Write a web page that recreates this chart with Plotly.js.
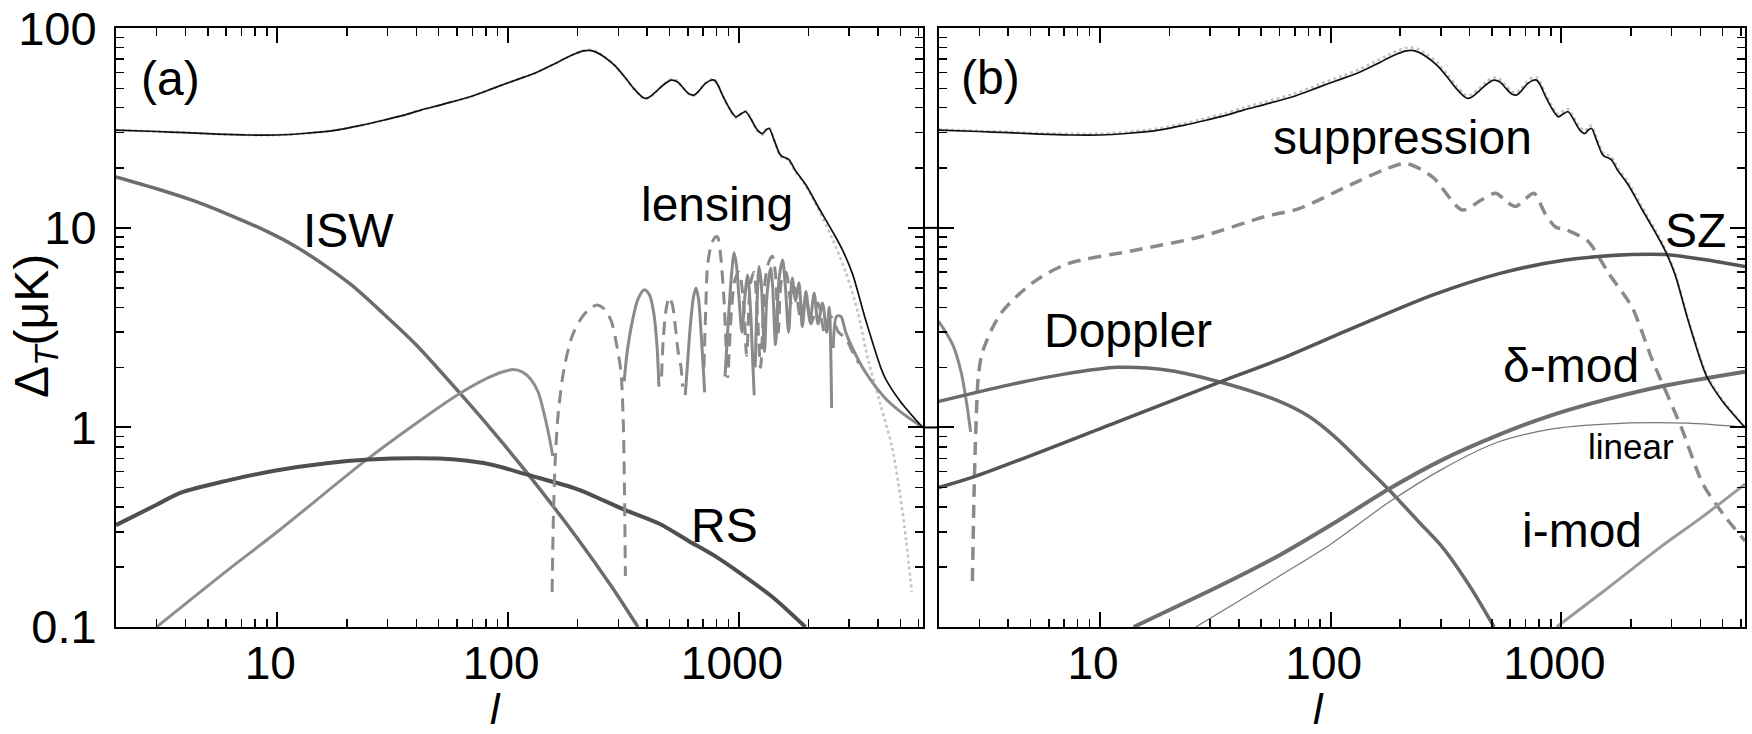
<!DOCTYPE html>
<html>
<head>
<meta charset="utf-8">
<script src="https://cdn.plot.ly/plotly-3.0.1.min.js"></script>
<style>
  html, body { margin: 0; padding: 0; background: #fff; }
  #chart { width: 1752px; height: 734px; }
</style>
</head>
<body>
<div id="chart"></div>
<script>
// Multipole values and temperature amplitudes (muK) for each contribution.

// Total anisotropy (same curve drawn in both panels)
const ellTotal = [2, 3, 4, 5.5, 7.5, 10, 13, 18, 23, 28.5, 35, 41.8, 52, 68.5, 89.5, 110, 131, 155, 178, 195, 210, 225, 240, 260, 290, 320, 350, 375, 389, 410, 440, 470, 508, 540, 575, 610, 640, 670, 710, 750, 781, 810, 850, 900, 970, 1020, 1070, 1120, 1200, 1265, 1310, 1352, 1420, 1500, 1545, 1600, 1650, 1750, 1950, 2200, 2540, 2800, 3100, 3540, 4110, 4340, 5000, 6250];
const total = [30.9, 30.4, 30.0, 29.5, 29.2, 29.2, 29.7, 30.9, 32.6, 34.5, 36.6, 38.9, 41.6, 45.4, 50.9, 55.5, 59.7, 65.5, 71, 74.5, 76.8, 77.5, 76, 72, 65, 57, 50, 46, 44.6, 45.3, 48.5, 52, 55, 54, 50, 46.8, 46.3, 48.5, 52.5, 54.8, 55, 52, 46, 40.5, 36, 37.3, 38.2, 35.5, 31, 29.7, 31, 31.5, 27.5, 23.5, 22.7, 22.4, 21.9, 19.5, 16.4, 12.8, 9.6, 7.8, 5.9, 3.45, 2.0, 1.73, 1.35, 1.0];

// Unlensed primary (dotted, panel a)
const ellUnlensed = [2, 3, 4, 5.5, 7.5, 10, 13, 18, 23, 28.5, 35, 41.8, 52, 68.5, 89.5, 110, 131, 155, 178, 195, 210, 225, 240, 260, 290, 320, 350, 375, 389, 410, 440, 470, 508, 540, 575, 610, 640, 670, 710, 750, 781, 810, 850, 900, 970, 1020, 1070, 1120, 1200, 1265, 1310, 1352, 1420, 1500, 1545, 1600, 1650, 1750, 1950, 2200, 2540, 2900, 3250, 3620, 4100, 4600, 5000, 5300, 5600];
const unlensed = [30.9, 30.4, 30.0, 29.5, 29.2, 29.2, 29.7, 30.9, 32.6, 34.5, 36.6, 38.9, 41.6, 45.4, 50.9, 55.5, 59.7, 65.5, 71, 74.8, 77.2, 78, 76.5, 72.3, 65, 56.8, 49.6, 45.5, 44.2, 45, 48.5, 52.2, 55.5, 54.5, 50, 46.5, 46, 48.4, 52.8, 55.3, 55.5, 52.2, 46, 40.2, 35.5, 37.2, 38.5, 35.7, 30.6, 29.3, 31, 31.8, 27.5, 23.2, 22.4, 22.3, 21.6, 19.2, 16.2, 12.5, 8.8, 6.0, 3.9, 2.2, 1.3, 0.8, 0.45, 0.27, 0.15];

// Total before suppression (dotted, panel b)
const ellPrimaryB = [2, 3, 4, 5.5, 7.5, 10, 13, 18, 23, 28.5, 35, 41.8, 52, 68.5, 89.5, 110, 131, 155, 178, 195, 210, 225, 240, 260, 290, 320, 350, 375, 389, 410, 440, 470, 508, 540, 575, 610, 640, 670, 710, 750, 781, 810, 850, 900, 970, 1020, 1070, 1120, 1200, 1265, 1310, 1352, 1420, 1500, 1545, 1600, 1650, 1750, 1950, 2200, 2540, 2800, 3100, 3540, 4110, 4340, 5000, 6250];
const primaryB = [31.1, 30.6, 30.3, 29.8, 29.6, 29.6, 30.2, 31.5, 33.3, 35.3, 37.5, 40, 42.8, 46.8, 52.5, 57.3, 61.8, 67.8, 73.5, 77.2, 79.5, 80.2, 78.6, 74.4, 67.1, 58.8, 51.6, 47.4, 46, 46.7, 50, 53.6, 56.7, 55.6, 51.5, 48.2, 47.7, 50, 54.1, 56.5, 56.7, 53.6, 47.4, 41.8, 37.1, 38.5, 39.4, 36.6, 32, 30.6, 32, 32.5, 28.4, 24.3, 23.4, 23.1, 22.6, 20.1, 16.9, 13.2, 9.85, 7.95, 6.0, 3.5, 2.04, 1.76, 1.37, 1.0];

// Panel (a): integrated Sachs-Wolfe
const ellISW = [2, 3, 4.24, 6, 9.1, 12, 16.1, 21, 28.5, 40, 60.7, 85, 121, 200, 280, 365];
const isw = [18, 15.7, 13.8, 11.8, 9.55, 8.07, 6.47, 5.16, 3.76, 2.59, 1.52, 0.97, 0.59, 0.277, 0.16, 0.1];

// Panel (a): ISW-lensing cross term
const ellCross = [3, 6, 10, 24, 40, 60, 80, 95, 105, 115, 125, 135, 145, 152, 156];
const cross = [0.1, 0.19, 0.3, 0.68, 1.05, 1.45, 1.75, 1.9, 1.95, 1.9, 1.75, 1.5, 1.1, 0.85, 0.72];

// Panel (a): Rees-Sciama
const ellRS = [2, 3, 3.8, 6, 10, 16, 25, 40, 59, 85, 121, 200, 314, 450, 605, 800, 1000, 1400, 1940];
const rs = [0.324, 0.41, 0.47, 0.54, 0.61, 0.66, 0.69, 0.70, 0.69, 0.65, 0.58, 0.49, 0.39, 0.33, 0.27, 0.224, 0.188, 0.141, 0.1];

// Panel (a): lensing, positive part (solid) and negative part (dashed)
const ellLensPos = [318, 328, 345, 365, 389, 410, 428, 442, 450, null,
  585, 597, 615, 635, 651, 668, 685, 700, 710, null,
  870, 900, 930, 953, 975, 1000, 1030, 1060, 1090, 1120, 1150, 1164, null,
  1175, 1200, 1222, 1250, 1290, 1320, 1370, 1400, 1440, 1490, 1545, 1590, 1640, 1700, 1760, 1820, 1880, 1950, 2030, 2117, 2200, 2300, 2400, 2460, 2520, null,
  2560, 2650, 2763, 2900, 3100, 3520, 4300, 5000, 6250];
const lensPos = [1.7, 2.4, 3.4, 4.4, 4.9, 4.6, 3.7, 2.5, 1.6, null,
  1.45, 2.0, 3.2, 4.5, 5.0, 4.4, 3.0, 2.0, 1.5, null,
  1.8, 3.5, 6.0, 7.5, 6.5, 4.5, 3.0, 4.5, 5.8, 4.0, 2.0, 1.45, null,
  2.0, 4.5, 6.4, 5.2, 2.4, 4.5, 6.3, 5.0, 2.6, 5.5, 6.9, 5.0, 3.0, 5.6, 4.3, 5.3, 3.2, 4.8, 3.4, 4.7, 3.3, 4.2, 3.0, 4.0, 1.25, null,
  2.5, 3.6, 3.6, 3.0, 2.5, 1.9, 1.4, 1.2, 1.0];
const ellLensNeg = [155, 157, 160, 165, 175, 190, 210, 230, 245, 262, 280, 295, 308, 315, 319, 322, null,
  462, 470, 485, 499, 515, 530, 545, 561, 570, null,
  705, 718, 731, 760, 790, 807, 830, 860, 880, 894, null,
  900, 930, 960, 1000, 1040, 1080, 1120, 1160, 1200, 1240, 1300, 1350, 1396, 1440, 1480, 1530, 1600, 1680, 1750, 1850, 1950, 2050, 2200, 2350, 2500, 2700, 2900, 3100, 3300];
const lensNeg = [0.15, 0.35, 0.7, 1.2, 2.0, 2.9, 3.6, 4.0, 4.1, 3.9, 3.4, 2.6, 1.9, 1.1, 0.5, 0.18, null,
  1.8, 2.8, 4.0, 4.5, 4.1, 3.2, 2.4, 2.0, 1.6, null,
  2.0, 4.0, 6.5, 8.3, 9.0, 9.0, 7.5, 4.5, 2.5, 1.77, null,
  2.0, 4.0, 5.5, 6.0, 4.6, 2.3, 5.2, 6.0, 3.8, 2.0, 5.5, 6.8, 7.2, 5.8, 3.0, 5.5, 6.0, 4.2, 5.0, 3.5, 4.5, 3.3, 4.2, 3.0, 3.6, 3.0, 2.8, 2.4, 2.1];

// Panel (b): suppression (solid where positive, dashed where negative)
const ellSuppPos = [2, 2.3, 2.5, 2.65, 2.75];
const suppPos = [3.4, 2.6, 1.9, 1.3, 0.95];
const ellSuppNeg = [2.8, 2.85, 2.9, 2.97, 3.1, 3.7, 5.1, 7.2, 14, 27, 52, 73, 120, 170, 212, 276, 372, 450, 520, 580, 634, 700, 761, 850, 944, 1043, 1180, 1314, 1606, 2024, 2470, 3310, 4110, 5100, 6250];
const suppNeg = [0.17, 0.5, 1.0, 1.8, 2.4, 3.7, 5.3, 6.6, 7.7, 9.0, 11.4, 12.5, 16.3, 19.5, 21, 18, 12.3, 13.8, 14.9, 13.5, 12.8, 14.0, 14.9, 11.8, 10.1, 9.8, 9.2, 8.5, 5.9, 4.0, 2.2, 1.0, 0.52, 0.36, 0.27];

// Panel (b): Doppler
const ellDoppler = [2, 4, 7, 11.9, 20, 35, 60, 80, 104, 140, 178, 240, 306, 401, 511];
const doppler = [1.35, 1.63, 1.85, 2.0, 1.93, 1.66, 1.35, 1.14, 0.9, 0.645, 0.49, 0.338, 0.25, 0.16, 0.1];

// Panel (b): Sunyaev-Zel'dovich
const ellSZ = [2, 2.9, 12, 35, 60, 121, 276, 537, 1043, 2024, 2825, 3940, 6250];
const sz = [0.5, 0.57, 1.07, 1.73, 2.19, 3.1, 4.6, 5.9, 6.9, 7.35, 7.35, 7.0, 6.4];

// Panel (b): density-modulated reionization (nonlinear and linear) and ionization-modulated
const ellDelta = [14, 35, 60, 104, 178, 306, 525, 904, 1600, 2670, 6250];
const deltaMod = [0.1, 0.166, 0.229, 0.333, 0.49, 0.69, 0.91, 1.15, 1.39, 1.6, 1.9];
const ellLinear = [26, 40, 60, 100, 178, 306, 525, 900, 1550, 3490, 6250];
const linear = [0.1, 0.135, 0.18, 0.26, 0.42, 0.62, 0.84, 0.98, 1.04, 1.05, 1.0];
const ellIMod = [953, 1500, 2670, 4000, 6250];
const iMod = [0.1, 0.149, 0.25, 0.35, 0.52];

// Axis ticks
const xMajor = [10, 100, 1000];
const xMajorText = ['10', '100', '1000'];
const yMajor = [0.1, 1, 10, 100];
const yMajorText = ['0.1', '1', '10', '100'];

function minorTicks(decades, maxVal) {
  const out = [];
  decades.forEach(d => {
    for (let k = 2; k <= 9; k++) {
      const v = k * d;
      if (v <= maxVal) out.push(v);
    }
  });
  return out;
}
const xMinor = minorTicks([1, 10, 100, 1000], 6250);
const yMinor = minorTicks([0.1, 1, 10], 100);

const W = 1752, H = 734;
const FONT = 'Liberation Sans, Arial, Helvetica, sans-serif';
const xDomA = [116 / W, 922.7 / W];
const xDomB = [938.7 / W, 1745 / W];
const yDom = [1 - 627 / H, 1 - 28.3 / H];
const xRange = [Math.log10(2), Math.log10(6250)];
const yRange = [-1, 2];

function line(x, y, xa, ya, color, width, dash) {
  return {
    type: 'scatter', mode: 'lines', x: x, y: y, xaxis: xa, yaxis: ya,
    connectgaps: false, hoverinfo: 'skip', showlegend: false,
    line: { color: color, width: width, dash: dash || 'solid', shape: 'spline', smoothing: 0.8 }
  };
}

const DASH = '13px,8px';
const traces = [
  // panel (a)
  line(ellUnlensed, unlensed, 'x', 'y', '#c4c4c4', 2.6, 'dot'),
  line(ellISW, isw, 'x', 'y', '#6c6c6c', 3.5),
  line(ellCross, cross, 'x', 'y', '#8e8e8e', 3),
  line(ellRS, rs, 'x', 'y', '#4f4f4f', 4),
  line(ellLensNeg, lensNeg, 'x', 'y', '#8a8a8a', 3, DASH),
  line(ellLensPos, lensPos, 'x', 'y', '#8a8a8a', 3),
  line(ellTotal, total, 'x', 'y', '#111111', 1.7),
  // panel (b)
  line(ellPrimaryB, primaryB, 'x2', 'y2', '#c4c4c4', 2.6, 'dot'),
  line(ellSuppPos, suppPos, 'x2', 'y2', '#8a8a8a', 3),
  line(ellSuppNeg, suppNeg, 'x2', 'y2', '#8a8a8a', 3.5, DASH),
  line(ellDoppler, doppler, 'x2', 'y2', '#6a6a6a', 3.5),
  line(ellSZ, sz, 'x2', 'y2', '#555555', 3.5),
  line(ellDelta, deltaMod, 'x2', 'y2', '#6e6e6e', 4),
  line(ellLinear, linear, 'x2', 'y2', '#777777', 1.2),
  line(ellIMod, iMod, 'x2', 'y2', '#9a9a9a', 3),
  line(ellTotal, total, 'x2', 'y2', '#111111', 1.7)
];

function xAxis(domain, anchor) {
  return {
    type: 'log', range: xRange, domain: domain, anchor: anchor,
    showline: true, linecolor: '#000', linewidth: 2, mirror: 'ticks',
    showgrid: false, zeroline: false,
    ticks: 'inside', ticklen: 15, tickwidth: 2, tickcolor: '#000',
    tickmode: 'array', tickvals: xMajor, ticktext: xMajorText,
    tickfont: { family: FONT, size: 46, color: '#000' },
    ticklabelstandoff: -5, ticklabelshift: -7,
    minor: { tickmode: 'array', tickvals: xMinor, ticks: 'inside', ticklen: 8, tickwidth: 1.5, tickcolor: '#000', showgrid: false }
  };
}
function yAxis(anchor, labels) {
  return {
    type: 'log', range: yRange, domain: yDom, anchor: anchor,
    showline: true, linecolor: '#000', linewidth: 2, mirror: 'ticks',
    showgrid: false, zeroline: false,
    ticks: 'inside', ticklen: 15, tickwidth: 2, tickcolor: '#000',
    tickmode: 'array', tickvals: yMajor, ticktext: yMajorText,
    showticklabels: labels,
    tickfont: { family: FONT, size: 47, color: '#000' },
    ticklabelstandoff: 8,
    minor: { tickmode: 'array', tickvals: yMinor, ticks: 'inside', ticklen: 8, tickwidth: 1.5, tickcolor: '#000', showgrid: false }
  };
}

function label(text, px, py, size, extra) {
  return Object.assign({
    text: text, xref: 'paper', yref: 'paper', x: px / W, y: 1 - py / H,
    xanchor: 'center', yanchor: 'middle', showarrow: false,
    font: { family: FONT, size: size || 48, color: '#000' }
  }, extra || {});
}

// major y ticks continue across the narrow gap between the panels
function yFrac(v) { return yDom[0] + (Math.log10(v) - yRange[0]) / (yRange[1] - yRange[0]) * (yDom[1] - yDom[0]); }
const gapTicks = [1, 10].map(v => ({
  type: 'line', xref: 'paper', yref: 'paper',
  x0: xDomA[1], x1: xDomB[0], y0: yFrac(v), y1: yFrac(v),
  line: { color: '#000', width: 2 }
}));

// italic multipole symbol under each panel, resting on the bottom edge
function ellTitle(px) {
  return {
    text: 'l', xref: 'paper', yref: 'paper', x: px / W, y: 0,
    xanchor: 'center', yanchor: 'bottom', showarrow: false, borderpad: 0,
    font: { family: FONT, size: 43, color: '#000', style: 'italic' }
  };
}

const layout = {
  width: W, height: H,
  margin: { l: 0, r: 0, t: 0, b: 0 },
  paper_bgcolor: '#fff', plot_bgcolor: '#fff',
  showlegend: false,
  xaxis: xAxis(xDomA, 'y'),
  yaxis: yAxis('x', true),
  xaxis2: xAxis(xDomB, 'y2'),
  yaxis2: yAxis('x2', false),
  shapes: gapTicks,
  annotations: [
    label('(a)', 170, 78),
    label('(b)', 990, 77),
    label('ISW', 348, 230),
    label('lensing', 717, 204),
    label('RS', 724, 525),
    label('suppression', 1402, 137),
    label('Doppler', 1128, 331),
    label('SZ', 1695, 231),
    label('δ-mod', 1571, 365),
    label('linear', 1631, 446, 35),
    label('i-mod', 1582, 530),
    ellTitle(495),
    ellTitle(1318),
    label('Δ<sub><i>T</i></sub>(μK)', 35, 326, 48, { textangle: -90 })
  ]
};

Plotly.newPlot('chart', traces, layout, { staticPlot: true, displayModeBar: false });
</script>
</body>
</html>
